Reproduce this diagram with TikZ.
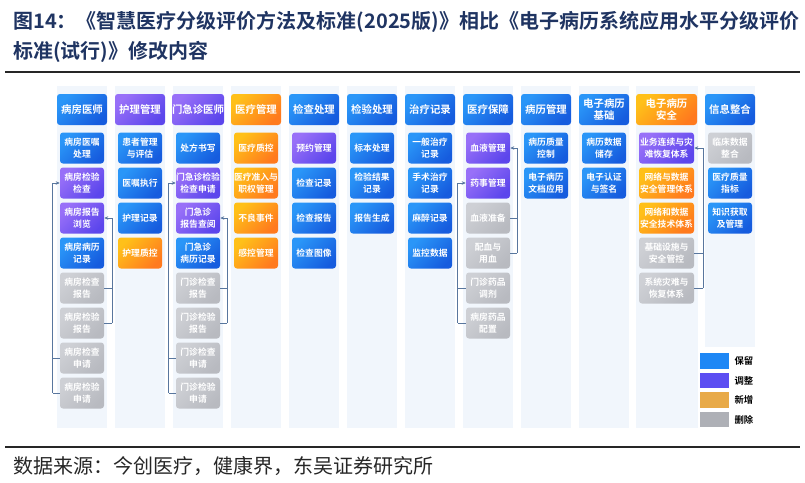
\documentclass[tikz,border=0pt]{standalone}
\usepackage{fontspec}
\setmainfont{Noto Sans CJK SC}[BoldFont={Noto Sans CJK SC Bold}]
\usetikzlibrary{arrows.meta}
\definecolor{bA}{RGB}{42,150,248}
\definecolor{bB}{RGB}{22,92,222}
\definecolor{pA}{RGB}{152,112,248}
\definecolor{pB}{RGB}{92,70,236}
\definecolor{oA}{RGB}{255,192,25}
\definecolor{oB}{RGB}{255,122,30}
\definecolor{gA}{RGB}{206,208,213}
\definecolor{gB}{RGB}{184,186,192}
\definecolor{panelC}{RGB}{241,246,252}
\definecolor{lineC}{RGB}{88,118,158}
\definecolor{titleC}{RGB}{31,52,98}
\definecolor{lgB}{RGB}{30,135,245}
\definecolor{lgP}{RGB}{92,78,242}
\definecolor{lgO}{RGB}{232,170,72}
\definecolor{lgG}{RGB}{174,176,182}
\tikzset{
  bx/.style={rounded corners=2.2pt, minimum width=33pt, minimum height=23.25pt, inner sep=0pt,
    align=center, text=white, font=\bfseries\fontsize{6.6}{8.6}\selectfont, shading angle=45},
  wbx/.style={bx, minimum width=41.25pt},
  hd/.style={bx, minimum width=37.5pt, font=\bfseries\fontsize{7.8}{9.2}\selectfont},
  whd/.style={hd, minimum width=45.75pt},
  blu/.style={top color=bA, bottom color=bB, shading angle=45},
  pur/.style={top color=pA, bottom color=pB, shading angle=45},
  org/.style={top color=oA, bottom color=oB, shading angle=45},
  gry/.style={top color=gA, bottom color=gB, shading angle=45},
  ln/.style={draw=lineC, line width=0.6pt},
  arr/.style={ln, -{Stealth[length=3pt,width=2.6pt]}},
  lgbox/.style={minimum width=21.75pt, minimum height=11.5pt, inner sep=0pt},
  lgtxt/.style={anchor=west, inner sep=0pt, font=\bfseries\fontsize{7}{8}\selectfont, text=black},
  panel/.style={fill=panelC, draw=none}
}
\begin{document}
\begin{tikzpicture}[x=0.75pt,y=-0.75pt]
\useasboundingbox (0,0) rectangle (805,482);
% title
\node[anchor=west, inner sep=0pt, text=titleC, font=\bfseries\fontsize{15}{15}\selectfont] (t1) at (13,22) {图14：《智慧医疗分级评价方法及标准(2025版)》相比《电子病历系统应用水平分级评价};
\node[anchor=west, inner sep=0pt, text=titleC, font=\bfseries\fontsize{15}{15}\selectfont] (t2) at (13,52) {标准(试行)》修改内容};
\draw[line width=1.6pt, black!85] (5,72) -- (800,72);
\draw[line width=1.6pt, black!85] (5,447) -- (800,447);
\node[anchor=west, inner sep=0pt, text=black!85, font=\fontsize{15}{15}\selectfont] (src) at (13,466) {数据来源：今创医疗，健康界，东吴证券研究所};
% panels
\foreach \cx in {82,140,198,256,314,372,430,488,546,604}{
  \fill[panel] (\cx-25,86) rectangle (\cx+25,428);
}
\fill[panel] (666.5-31,86) rectangle (666.5+31,428);
\fill[panel] (730-25,86) rectangle (730+25,347);
% headers
\node[hd,blu] (h1) at (82,109.5) {病房医师};
\node[hd,pur] (h2) at (140,109.5) {护理管理};
\node[hd,pur] (h3) at (198,109.5) {门急诊医师};
\node[hd,org] (h4) at (256,109.5) {医疗管理};
\node[hd,blu] (h5) at (314,109.5) {检查处理};
\node[hd,blu] (h6) at (372,109.5) {检验处理};
\node[hd,blu] (h7) at (430,109.5) {治疗记录};
\node[hd,blu] (h8) at (488,109.5) {医疗保障};
\node[hd,blu] (h9) at (546,109.5) {病历管理};
\node[hd,blu] (h10) at (604,109.5) {电子病历\\基础};
\node[whd,org] (h11) at (666.5,109.5) {电子病历\\安全};
\node[hd,blu] (h12) at (730,109.5) {信息整合};
% column 1
\node[bx,blu] (c1r1) at (82,148) {病房医嘱\\处理};
\node[bx,pur] (c1r2) at (82,183) {病房检验\\检查};
\node[bx,pur] (c1r3) at (82,218) {病房报告\\浏览};
\node[bx,blu] (c1r4) at (82,253) {病房病历\\记录};
\node[bx,gry] (c1r5) at (82,288) {病房检查\\报告};
\node[bx,gry] (c1r6) at (82,323) {病房检验\\报告};
\node[bx,gry] (c1r7) at (82,358) {病房检查\\申请};
\node[bx,gry] (c1r8) at (82,393) {病房检验\\申请};
% column 2
\node[bx,blu] (c2r1) at (140,148) {患者管理\\与评估};
\node[bx,blu] (c2r2) at (140,183) {医嘱执行};
\node[bx,blu] (c2r3) at (140,218) {护理记录};
\node[bx,org] (c2r4) at (140,253) {护理质控};
% column 3
\node[bx,blu] (c3r1) at (198,148) {处方书写};
\node[bx,pur] (c3r2) at (198,183) {门急诊检验\\检查申请};
\node[bx,pur] (c3r3) at (198,218) {门急诊\\报告查阅};
\node[bx,blu] (c3r4) at (198,253) {门急诊\\病历记录};
\node[bx,gry] (c3r5) at (198,288) {门诊检查\\报告};
\node[bx,gry] (c3r6) at (198,323) {门诊检验\\报告};
\node[bx,gry] (c3r7) at (198,358) {门诊检查\\申请};
\node[bx,gry] (c3r8) at (198,393) {门诊检验\\申请};
% column 4
\node[bx,org] (c4r1) at (256,148) {医疗质控};
\node[bx,org] (c4r2) at (256,183) {医疗准入与\\职权管理};
\node[bx,org] (c4r3) at (256,218) {不良事件};
\node[bx,org] (c4r4) at (256,253) {感控管理};
% column 5
\node[bx,pur] (c5r1) at (314,148) {预约管理};
\node[bx,blu] (c5r2) at (314,183) {检查记录};
\node[bx,blu] (c5r3) at (314,218) {检查报告};
\node[bx,blu] (c5r4) at (314,253) {检查图像};
% column 6
\node[bx,blu] (c6r1) at (372,148) {标本处理};
\node[bx,blu] (c6r2) at (372,183) {检验结果\\记录};
\node[bx,blu] (c6r3) at (372,218) {报告生成};
% column 7
\node[bx,blu] (c7r1) at (430,148) {一般治疗\\记录};
\node[bx,blu] (c7r2) at (430,183) {手术治疗\\记录};
\node[bx,blu] (c7r3) at (430,218) {麻醉记录};
\node[bx,blu] (c7r4) at (430,253) {监控数据};
% column 8
\node[bx,pur] (c8r1) at (488,148) {血液管理};
\node[bx,pur] (c8r2) at (488,183) {药事管理};
\node[bx,gry] (c8r3) at (488,218) {血液准备};
\node[bx,gry] (c8r4) at (488,253) {配血与\\用血};
\node[bx,gry] (c8r5) at (488,288) {门诊药品\\调剂};
\node[bx,gry] (c8r6) at (488,323) {病房药品\\配置};
% column 9
\node[bx,blu] (c9r1) at (546,148) {病历质量\\控制};
\node[bx,blu] (c9r2) at (546,183) {电子病历\\文档应用};
% column 10
\node[bx,blu] (c10r1) at (604,148) {病历数据\\储存};
\node[bx,blu] (c10r2) at (604,183) {电子认证\\与签名};
% column 11
\node[wbx,pur] (c11r1) at (666.5,148) {业务连续与灾\\难恢复体系};
\node[wbx,org] (c11r2) at (666.5,183) {网络与数据\\安全管理体系};
\node[wbx,org] (c11r3) at (666.5,218) {网络和数据\\安全技术体系};
\node[wbx,gry] (c11r4) at (666.5,253) {基础设施与\\安全管控};
\node[wbx,gry] (c11r5) at (666.5,288) {系统灾难与\\恢复体系};
% column 12
\node[bx,gry] (c12r1) at (730,148) {临床数据\\整合};
\node[bx,blu] (c12r2) at (730,183) {医疗质量\\指标};
\node[bx,blu] (c12r3) at (730,218) {知识获取\\及管理};
% connectors column 1
\draw[ln] (c1r7.west) -- ++(-7,0);
\draw[ln] (c1r8.west) -- ++(-7,0) coordinate (k1a);
\draw[arr] (k1a) |- (c1r2.west);
\draw[ln] (c1r5.east) -- ++(8,0);
\draw[ln] (c1r6.east) -- ++(8,0) coordinate (k1b);
\draw[arr] (k1b) |- (c1r3.east);
% connectors column 3
\draw[ln] (c3r7.west) -- ++(-7,0);
\draw[ln] (c3r8.west) -- ++(-7,0) coordinate (k3a);
\draw[arr] (k3a) |- (c3r2.west);
\draw[ln] (c3r5.east) -- ++(7,0);
\draw[ln] (c3r6.east) -- ++(7,0) coordinate (k3b);
\draw[arr] (k3b) |- (c3r3.east);
% connectors column 8
\draw[ln] (c8r3.east) -- ++(7,0);
\draw[ln] (c8r4.east) -- ++(7,0) coordinate (k8a);
\draw[arr] (k8a) |- (c8r1.east);
\draw[ln] (c8r5.west) -- ++(-8,0);
\draw[ln] (c8r6.west) -- ++(-8,0) coordinate (k8b);
\draw[arr] (k8b) |- (c8r2.west);
% connectors column 11
\draw[ln] (c11r4.east) -- ++(9,0);
\draw[ln] (c11r5.east) -- ++(9,0) coordinate (k11);
\draw[arr] (k11) |- (c11r1.east);
% legend
\node[lgbox, fill=lgB] (lg1) at (714.5,361) {};
\node[lgbox, fill=lgP] (lg2) at (714.5,380.5) {};
\node[lgbox, fill=lgO] (lg3) at (714.5,400) {};
\node[lgbox, fill=lgG] (lg4) at (714.5,419.5) {};
\node[lgtxt] (lt1) at ([xshift=3.75pt]lg1.east) {保留};
\node[lgtxt] (lt2) at ([xshift=3.75pt]lg2.east) {调整};
\node[lgtxt] (lt3) at ([xshift=3.75pt]lg3.east) {新增};
\node[lgtxt] (lt4) at ([xshift=3.75pt]lg4.east) {删除};
\end{tikzpicture}
\end{document}
